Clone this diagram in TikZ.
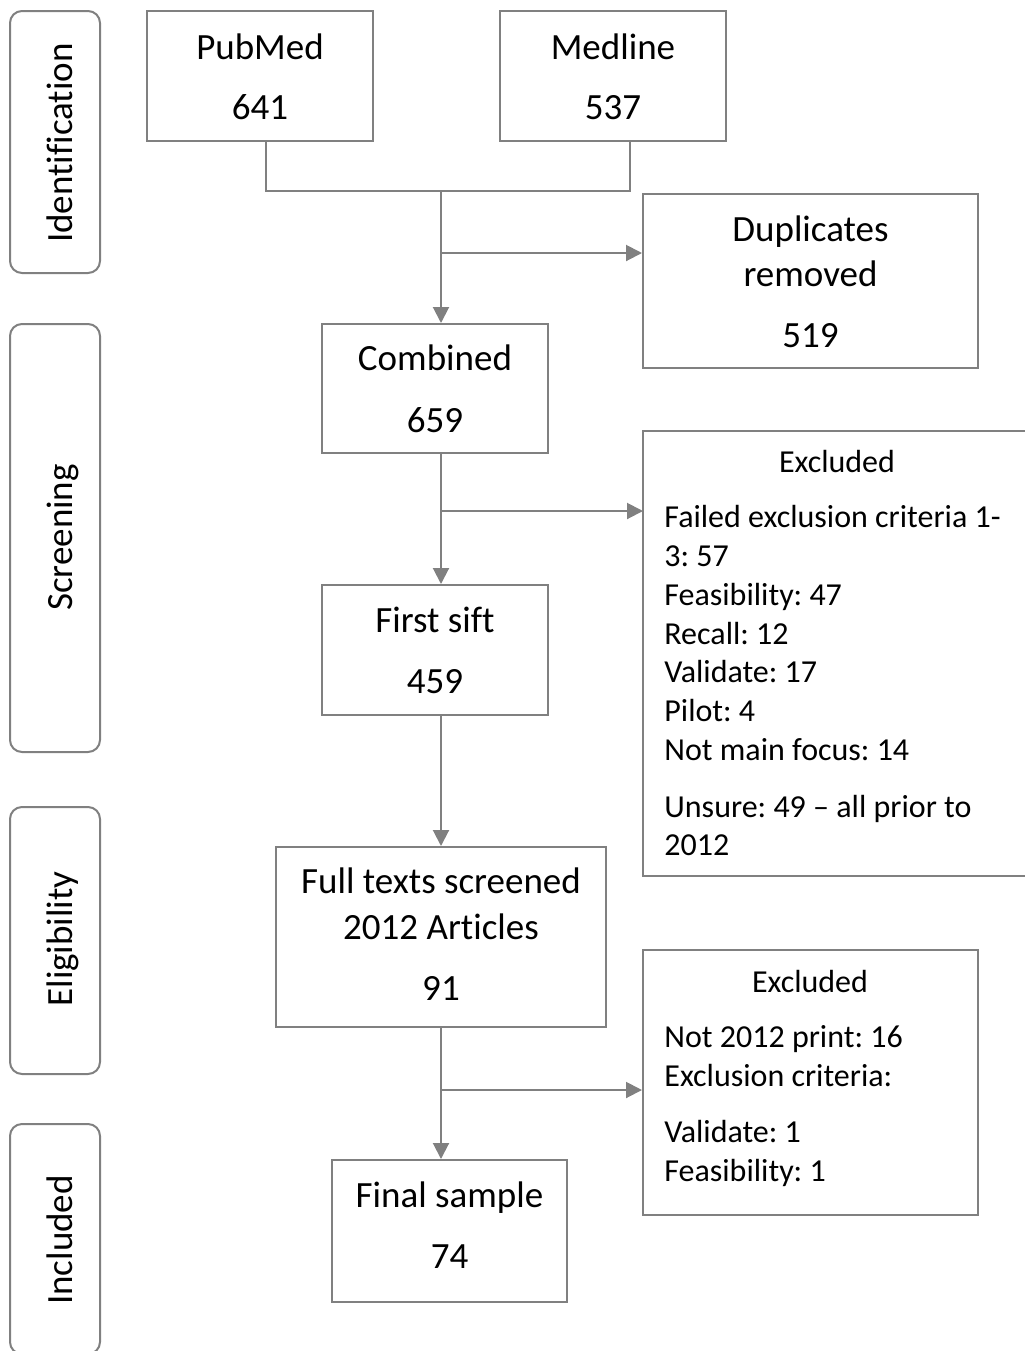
\documentclass[tikz,border=0pt]{standalone}
\usepackage{fontspec}
\setmainfont{Carlito}[Ligatures={TeX,NoCommon}]
\usetikzlibrary{arrows.meta,calc}
\definecolor{lc}{HTML}{808080}
\frenchspacing
\tikzset{
  box/.style={draw=lc,line width=1pt,rectangle,inner sep=0pt},
  side/.style={draw=lc,line width=1pt,rectangle,rounded corners=6pt,inner sep=0pt,minimum width=45pt},
  conn/.style={draw=lc,line width=1pt},
  arr/.style={conn,-{Triangle[length=8pt,width=8pt]}},
  txt/.style={anchor=base,inner sep=0pt,font=\fontsize{18.5pt}{19.5pt}\selectfont},
  ltxt/.style={anchor=base west,inner sep=0pt,font=\fontsize{16pt}{19.5pt}\selectfont},
  htxt/.style={anchor=base,inner sep=0pt,font=\fontsize{16pt}{19.5pt}\selectfont},
  stxt/.style={anchor=base,inner sep=0pt,rotate=90,font=\fontsize{18.5pt}{19.5pt}\selectfont},
}
\begin{document}
\begin{tikzpicture}[x=0.5pt,y=-0.5pt]
\useasboundingbox (0,0) rectangle (1024,1351);
% side labels
\node[side,minimum height=131pt] (sid) at (55,142) {};
\node[stxt] (tid) at (72,143) {Identification};
\node[side,minimum height=214pt] (ssc) at (55,538) {};
\node[stxt] (tsc) at (72,537.5) {Screening};
\node[side,minimum height=133.5pt] (sel) at (55,940.5) {};
\node[stxt] (tel) at (72,939) {Eligibility};
\node[side,minimum height=115pt] (sin) at (55,1239) {};
\node[stxt] (tin) at (72,1240) {Included};
% boxes
\node[box,minimum width=113pt,minimum height=65pt] (pub) at (260,76) {};
\node[txt] (pubt) at (260,59) {PubMed};
\node[txt] (pubn) at (260,119) {641};
\node[box,minimum width=113pt,minimum height=65pt] (med) at (613,76) {};
\node[txt] (medt) at (613,59) {Medline};
\node[txt] (medn) at (613,119) {537};
\node[box,minimum width=167.5pt,minimum height=87pt] (dup) at (810.5,281) {};
\node[txt] (dupt1) at (810.5,241) {Duplicates};
\node[txt] (dupt2) at (810.5,286) {removed};
\node[txt] (dupn) at (810.5,347) {519};
\node[box,minimum width=113pt,minimum height=64.5pt] (comb) at (435,388.5) {};
\node[txt] (combt) at (435,370) {Combined};
\node[txt] (combn) at (435,432) {659};
\node[box,minimum width=113pt,minimum height=65pt] (sift) at (435,650) {};
\node[txt] (siftt) at (435,632) {First sift};
\node[txt] (siftn) at (435,693) {459};
\node[box,minimum width=165pt,minimum height=90pt] (full) at (441,937) {};
\node[txt] (fullt1) at (441,893) {Full texts screened};
\node[txt] (fullt2) at (441,939) {2012 Articles};
\node[txt] (fulln) at (441,1000) {91};
\node[box,minimum width=117.5pt,minimum height=71pt] (fin) at (449.5,1231) {};
\node[txt] (fint) at (449.5,1207) {Final sample};
\node[txt] (finn) at (449.5,1268) {74};
% excluded 1 (extends past right edge)
\coordinate (e1tl) at (643,431);
\coordinate (e1bl) at (643,876);
\draw[conn] (1030,431) -- (e1tl) -- (e1bl) -- (1030,876);
\node[htxt] (e1h) at (837,472) {Excluded};
\node[ltxt] (e1a) at (664,527) {Failed exclusion criteria 1-};
\node[ltxt] (e1b) at (664,566) {3: 57};
\node[ltxt] (e1c) at (664,605) {Feasibility: 47};
\node[ltxt] (e1d) at (664,644) {Recall: 12};
\node[ltxt] (e1e) at (664,682) {Validate: 17};
\node[ltxt] (e1f) at (664,721) {Pilot: 4};
\node[ltxt] (e1g) at (664,760) {Not main focus: 14};
\node[ltxt] (e1i) at (664,817) {Unsure: 49 – all prior to};
\node[ltxt] (e1j) at (664,855) {2012};
% excluded 2
\node[box,minimum width=167.5pt,minimum height=132.5pt] (exc2) at (810.5,1082.5) {};
\node[htxt] (e2h) at (810,992) {Excluded};
\node[ltxt] (e2a) at (664,1047) {Not 2012 print: 16};
\node[ltxt] (e2b) at (664,1086) {Exclusion criteria:};
\node[ltxt] (e2c) at (664,1142) {Validate: 1};
\node[ltxt] (e2d) at (664,1181) {Feasibility: 1};
% connectors
\coordinate (jl) at (266,191);
\coordinate (jr) at (630,191);
\coordinate (jc) at (441,191);
\draw[conn] (pub.south -| jl) -- (jl) -- (jr) -- (med.south -| jr);
\draw[arr] (jc) -- (comb.north -| jc);
\coordinate (b1) at (441,253);
\draw[arr] (b1) -- (b1 -| dup.west);
\draw[arr] (comb.south -| jc) -- (sift.north -| jc);
\coordinate (b2) at (441,511);
\draw[arr] (b2) -- (b2 -| e1tl);
\draw[arr] (sift.south -| jc) -- (full.north);
\draw[arr] (full.south) -- (fin.north -| full.south);
\coordinate (b3) at (441,1090);
\draw[arr] (b3) -- (b3 -| exc2.west);
\end{tikzpicture}
\end{document}
